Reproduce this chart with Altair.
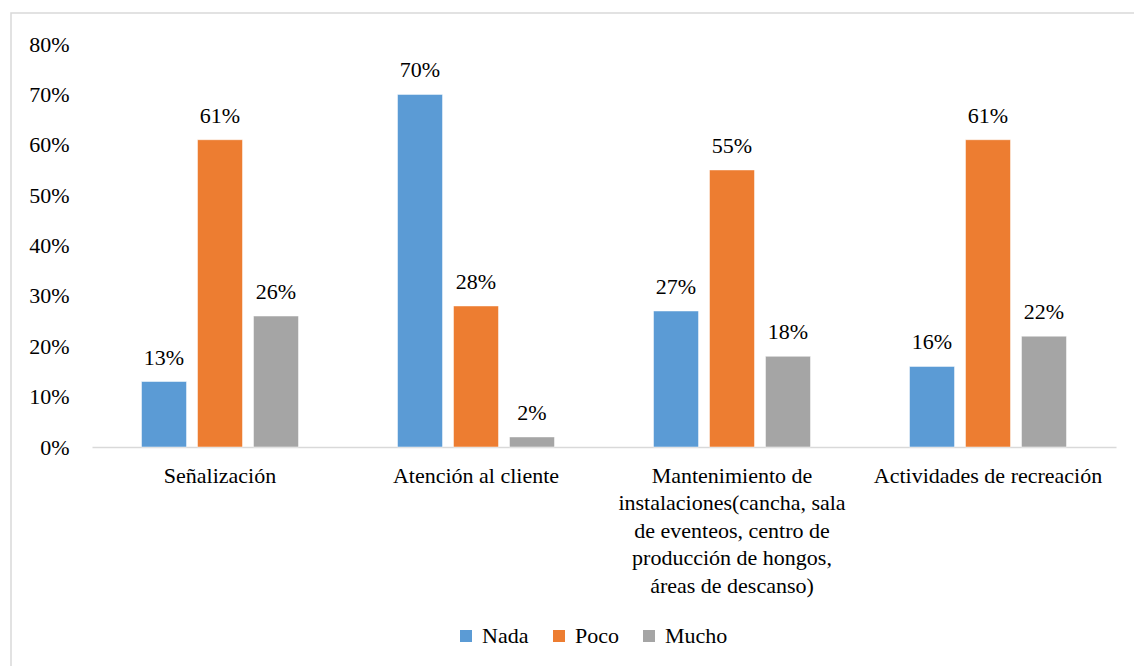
import altair as alt
import pandas as pd

# Survey results: share of answers per aspect
categories = [
    "Señalización",
    "Atención al cliente",
    "Mantenimiento de\ninstalaciones(cancha, sala\nde eventeos, centro de\nproducción de hongos,\náreas de descanso)",
    "Actividades de recreación",
]
series = ["Nada", "Poco", "Mucho"]
nada = [13, 70, 27, 16]
poco = [61, 28, 55, 61]
mucho = [26, 2, 18, 22]
colors = ["#5B9BD5", "#ED7D31", "#A5A5A5"]
y_ticks = [0, 10, 20, 30, 40, 50, 60, 70, 80]

rows = []
for name, vals in zip(series, [nada, poco, mucho]):
    for cat, v in zip(categories, vals):
        rows.append({"aspecto": cat, "nivel": name, "valor": v / 100})
df = pd.DataFrame(rows)

FONT = "Liberation Serif"
FS = 22

x = alt.X(
    "aspecto:N",
    sort=categories,
    scale=alt.Scale(paddingInner=0, paddingOuter=0),
    axis=alt.Axis(
        title=None,
        labelAngle=0,
        ticks=False,
        domainColor="#D9D9D9",
        domainWidth=1.5,
        labelPadding=18,
        labelLineHeight=27.5,
        labelLimit=400,
        labelExpr="split(datum.label, '\\n')",
        labelFont=FONT,
        labelFontSize=FS,
        labelColor="#000000",
    ),
)
xoff = alt.XOffset(
    "nivel:N",
    sort=series,
    scale=alt.Scale(paddingInner=0.196, paddingOuter=0.884),
)
y = alt.Y(
    "valor:Q",
    scale=alt.Scale(domain=[0, 0.8], nice=False),
    axis=alt.Axis(
        title=None,
        values=[t / 100 for t in y_ticks],
        format=".0%",
        grid=False,
        domain=False,
        ticks=False,
        labelPadding=23,
        labelFont=FONT,
        labelFontSize=FS,
        labelColor="#000000",
    ),
)
color = alt.Color(
    "nivel:N",
    sort=series,
    scale=alt.Scale(domain=series, range=colors),
    legend=alt.Legend(
        title=None,
        orient="none",
        direction="horizontal",
        legendX=363,
        legendY=581,
        symbolType="square",
        symbolSize=144,
        symbolStrokeWidth=0,
        symbolOpacity=1,
        labelFont=FONT,
        labelFontSize=FS,
        labelColor="#000000",
        labelOffset=5,
        columnPadding=19,
    ),
)

base = alt.Chart(df)

bars = base.mark_bar(stroke="white", strokeWidth=0.5).encode(
    x=x, xOffset=xoff, y=y, color=color
)

labels = base.mark_text(
    font=FONT, fontSize=FS, color="#000000", baseline="alphabetic", dy=-17
).encode(
    x=x,
    xOffset=xoff,
    y=y,
    text=alt.Text("valor:Q", format=".0%"),
)

# outer frame of the chart area
frame = alt.Chart(pd.DataFrame({"k": [0]})).mark_rect(
    fill=None, stroke="#D9D9D9", strokeWidth=1.5
).encode(
    x=alt.value(-81),
    x2=alt.value(1100),
    y=alt.value(-31),
    y2=alt.value(700),
)

chart = (
    alt.layer(frame, bars, labels)
    .properties(
        width=1024,
        height=403,
        autosize=alt.AutoSizeParams(type="none"),
        padding={"left": 92, "top": 44, "right": 18, "bottom": 219},
        background="white",
    )
    .configure(font=FONT)
    .configure_view(stroke=None)
)

chart.save("out.html", embed_options={"renderer": "svg", "actions": False})
